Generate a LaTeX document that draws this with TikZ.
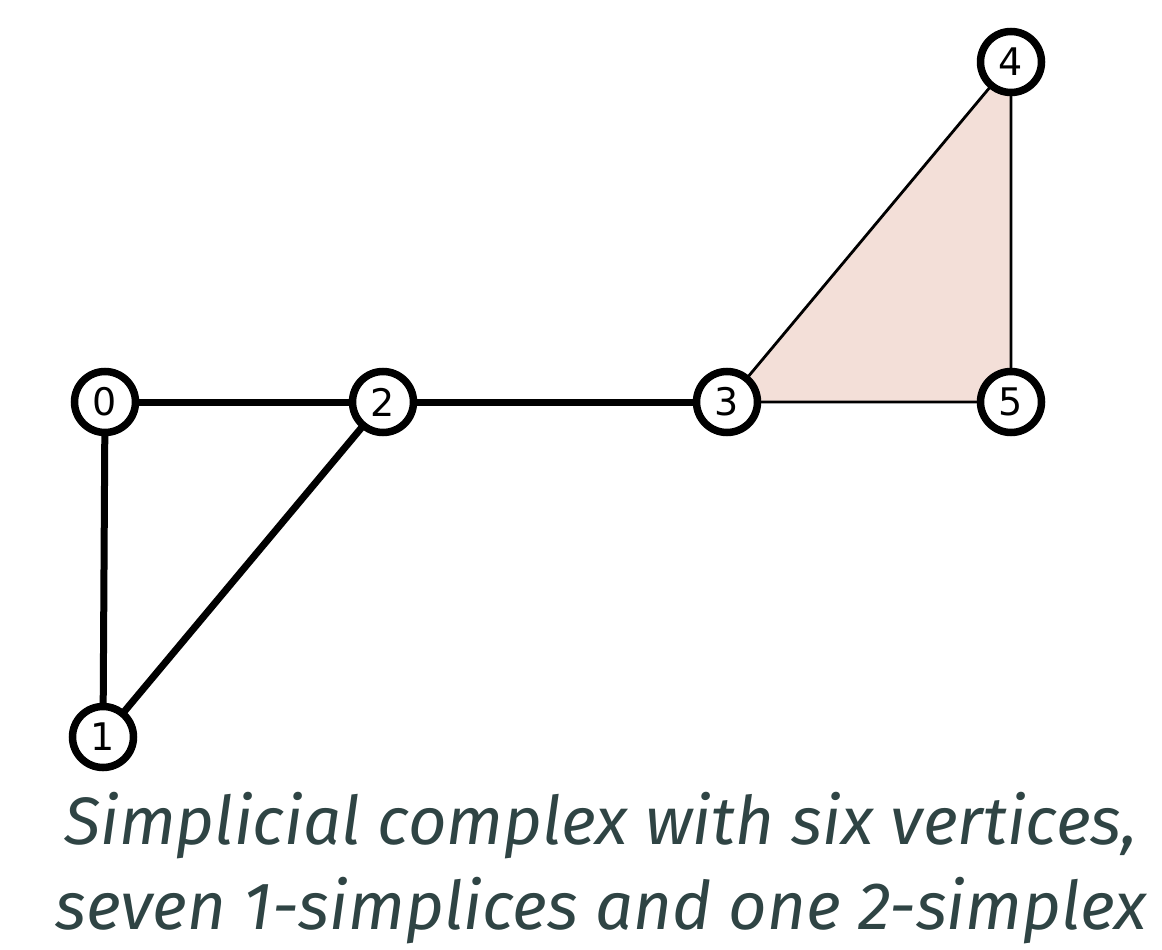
\documentclass[tikz,border=0pt]{standalone}
\usepackage{fontspec}
\setmainfont{Fira Sans}
\newfontfamily\numfont{DejaVu Sans}
\definecolor{capcol}{HTML}{2F4444}
\definecolor{trifill}{HTML}{F3DFD8}
\begin{document}
\begin{tikzpicture}[x=1pt,y=-1pt,
  vtx/.style={circle,draw=black,line width=7.5pt,fill=white,minimum size=61pt,inner sep=0pt,font=\numfont\fontsize{38}{38}\selectfont},
  thick edge/.style={line width=7pt},
  thin edge/.style={line width=2.8pt}]
\useasboundingbox (0,0) rectangle (1162,950);
\coordinate (t3) at (727,402);
\coordinate (t4) at (1011,62);
\coordinate (t5) at (1011,402);
\fill[trifill] (t3) -- (t4) -- (t5) -- cycle;
\draw[thick edge] (105,402) -- (383,402);
\draw[thick edge] (105,402) -- (103,737);
\draw[thick edge] (383,402) -- (103,737);
\draw[thick edge] (383,402) -- (727,402);
\draw[thin edge] (t3) -- (t4) -- (t5) -- cycle;
\node[vtx] (n0) at (105,402) {0};
\node[vtx] (n1) at (103,737) {1};
\node[vtx] (n2) at (383,402) {2};
\node[vtx] (n3) at (t3) {3};
\node[vtx] (n4) at (t4) {4};
\node[vtx] (n5) at (t5) {5};
\node[text=capcol,font=\itshape\fontsize{67}{85}\selectfont,align=center,anchor=base,inner sep=0pt] (cap) at (601,929) {Simplicial complex with six vertices,\\seven 1-simplices and one 2-simplex};
\end{tikzpicture}
\end{document}
